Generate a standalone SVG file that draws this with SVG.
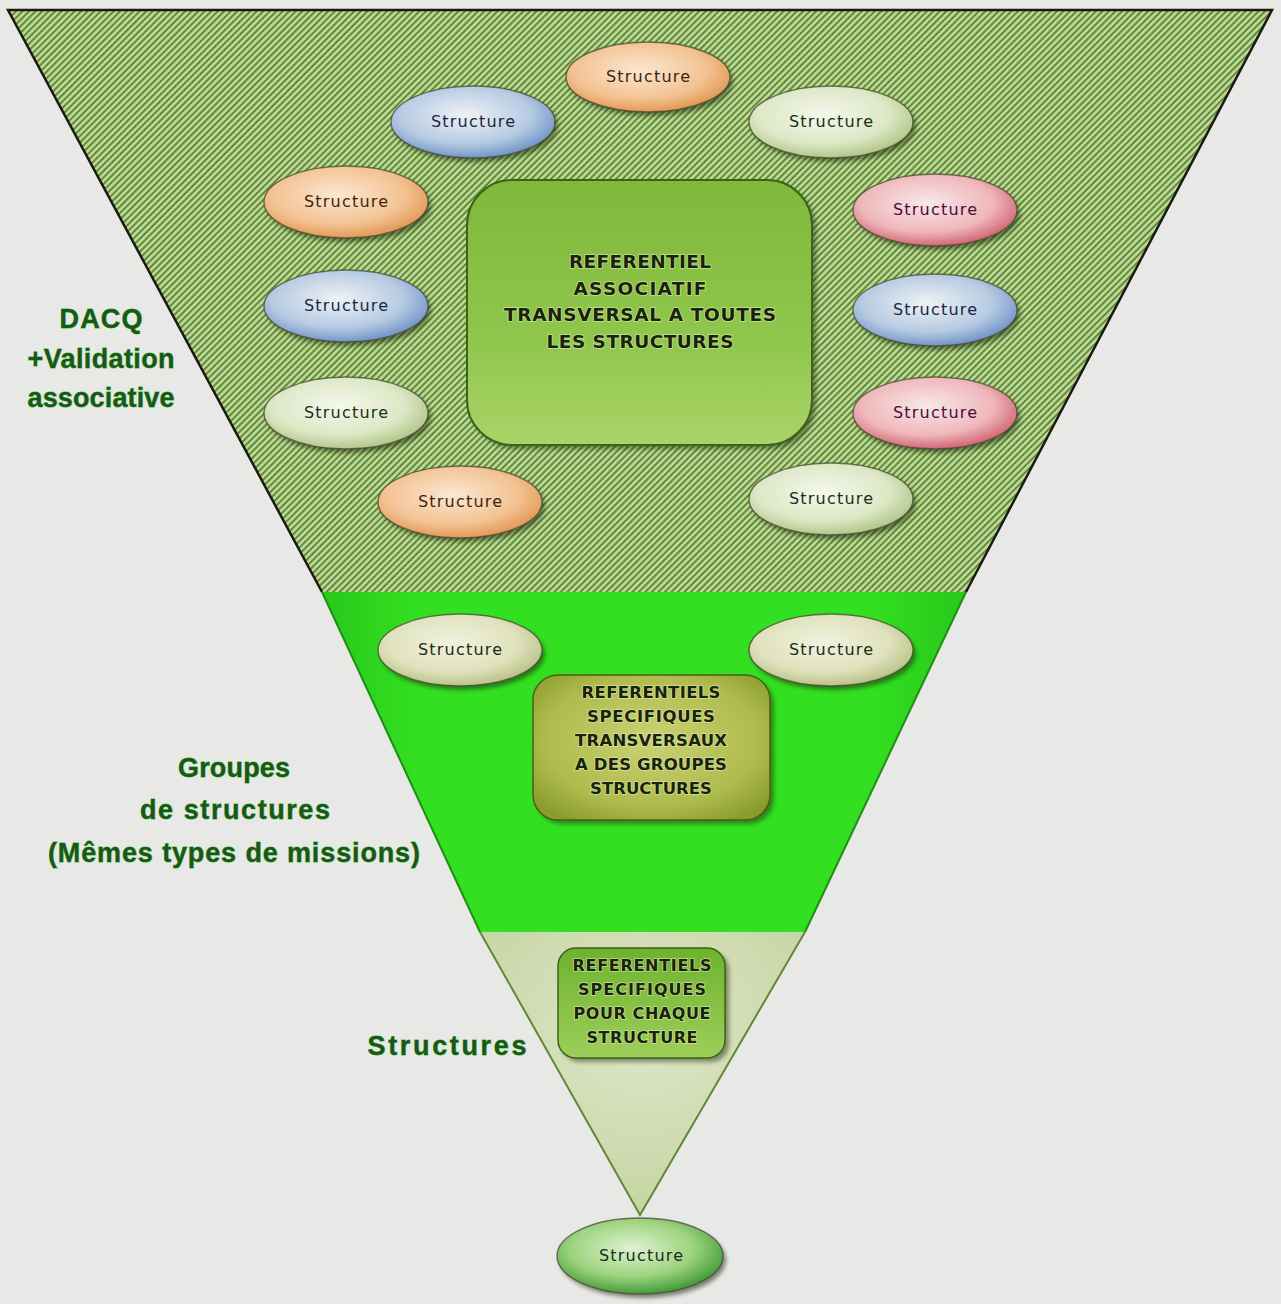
<svg xmlns="http://www.w3.org/2000/svg" width="1281" height="1304" viewBox="0 0 1281 1304">
<defs>
<pattern id="hatch" width="4.6" height="4.6" patternUnits="userSpaceOnUse" patternTransform="rotate(-45)">
<rect width="5" height="5" fill="#bcd792"/><rect width="5" height="1.8" fill="#5a8538"/>
</pattern>
<radialGradient id="gOrange" cx="45%" cy="40%" r="62%"><stop offset="0" stop-color="#fbe7d2"/><stop offset="0.65" stop-color="#f3c393"/><stop offset="1" stop-color="#e19650"/></radialGradient>
<radialGradient id="gBlue" cx="45%" cy="40%" r="62%"><stop offset="0" stop-color="#eef2f5"/><stop offset="0.65" stop-color="#b5cae2"/><stop offset="1" stop-color="#6c91c6"/></radialGradient>
<radialGradient id="gLight" cx="45%" cy="40%" r="62%"><stop offset="0" stop-color="#f5f7ec"/><stop offset="0.65" stop-color="#dde7c5"/><stop offset="1" stop-color="#adc485"/></radialGradient>
<radialGradient id="gPink" cx="45%" cy="40%" r="62%"><stop offset="0" stop-color="#f8e8e8"/><stop offset="0.65" stop-color="#efb7bb"/><stop offset="1" stop-color="#d0606f"/></radialGradient>
<radialGradient id="gBeige" cx="45%" cy="40%" r="62%"><stop offset="0" stop-color="#f1f2e0"/><stop offset="0.65" stop-color="#dfe2bc"/><stop offset="1" stop-color="#b7bf86"/></radialGradient>
<radialGradient id="gGreen" cx="45%" cy="40%" r="62%"><stop offset="0" stop-color="#e0f2d2"/><stop offset="0.6" stop-color="#9dd37e"/><stop offset="1" stop-color="#3c9833"/></radialGradient>
<linearGradient id="gMain" x1="0" y1="0" x2="0" y2="1"><stop offset="0" stop-color="#7fb83a"/><stop offset="0.6" stop-color="#8fc64c"/><stop offset="1" stop-color="#aad468"/></linearGradient>
<radialGradient id="gMid" cx="50%" cy="45%" r="65%"><stop offset="0" stop-color="#cbd274"/><stop offset="0.7" stop-color="#aebb4c"/><stop offset="1" stop-color="#8a9d2c"/></radialGradient>
<linearGradient id="gSmall" x1="0" y1="0" x2="0" y2="1"><stop offset="0" stop-color="#6eb22e"/><stop offset="1" stop-color="#9dcf5a"/></linearGradient>
<linearGradient id="gGreenBand" x1="0" y1="0" x2="1" y2="0"><stop offset="0" stop-color="#28c81a"/><stop offset="0.15" stop-color="#33e021"/><stop offset="0.85" stop-color="#33e021"/><stop offset="1" stop-color="#28c81a"/></linearGradient>
<radialGradient id="gTri" cx="50%" cy="35%" r="70%"><stop offset="0" stop-color="#dfe6c8"/><stop offset="1" stop-color="#c4d3a0"/></radialGradient>
<filter id="blur" x="-20%" y="-20%" width="140%" height="140%"><feGaussianBlur stdDeviation="2"/></filter>
</defs>
<style>
.sh{fill:#1e2a10;opacity:0.55;filter:url(#blur)}
.el{stroke:#4a4a30;stroke-width:1.4;stroke-opacity:0.75}
.st{font-family:"DejaVu Sans","Liberation Sans",sans-serif;font-size:16px;text-anchor:middle}
.ref{font-family:"DejaVu Sans","Liberation Sans",sans-serif;font-weight:bold;text-anchor:middle;fill:#18220c;stroke:#e2f2b0;stroke-width:1.6;paint-order:stroke;stroke-opacity:0.7}
.lab{font-family:"Liberation Sans",Arial,sans-serif;font-weight:bold;text-anchor:middle;fill:#1b561b;stroke:#44c23a;stroke-width:0.8;paint-order:stroke;font-size:27px}
</style>
<rect width="1281" height="1304" fill="#e8e8e6"/>

<g id="levels">
<polygon points="8,10 1272,10 966,592 322,592" fill="url(#hatch)"/>
<polyline points="322,592 8,10 1272,10 966,592" fill="none" stroke="#1a1a12" stroke-width="2.5"/>
<polygon points="322,592 966,592 805,932 480,932" fill="url(#gGreenBand)"/>
<polyline points="322,592 480,932" fill="none" stroke="#1f8f14" stroke-width="2"/>
<polyline points="966,592 805,932" fill="none" stroke="#1f8f14" stroke-width="2"/>
<polygon points="480,932 805,932 640,1215" fill="url(#gTri)"/>
<polyline points="480,932 640,1215 805,932" fill="none" stroke="#5c8a38" stroke-width="2"/>
</g>

<g id="connectors"/>

<g id="ref-main">
<rect x="471" y="184" width="345" height="265" rx="45" fill="#203010" opacity="0.5" filter="url(#blur)"/>
<rect x="467" y="180" width="345" height="265" rx="45" fill="url(#gMain)" stroke="#3a6418" stroke-width="2"/>
<text class="ref" font-size="18.5" x="640" y="268" textLength="142">REFERENTIEL</text>
<text class="ref" font-size="18.5" x="640" y="295" textLength="133">ASSOCIATIF</text>
<text class="ref" font-size="18.5" x="640" y="321" textLength="272">TRANSVERSAL A TOUTES</text>
<text class="ref" font-size="18.5" x="640" y="348" textLength="187">LES STRUCTURES</text>
</g>

<g id="ref-groupes">
<rect x="537" y="679" width="237" height="145" rx="25" fill="#203010" opacity="0.5" filter="url(#blur)"/>
<rect x="533" y="675" width="237" height="145" rx="25" fill="url(#gMid)" stroke="#4c5e18" stroke-width="1.5"/>
<text class="ref" font-size="16.5" x="651" y="698" textLength="139">REFERENTIELS</text>
<text class="ref" font-size="16.5" x="651" y="722" textLength="128">SPECIFIQUES</text>
<text class="ref" font-size="16.5" x="651" y="746" textLength="152">TRANSVERSAUX</text>
<text class="ref" font-size="16.5" x="651" y="770" textLength="152">A DES GROUPES</text>
<text class="ref" font-size="16.5" x="651" y="794" textLength="122">STRUCTURES</text>
</g>

<g id="ref-structure">
<rect x="562" y="952" width="167" height="110" rx="18" fill="#203010" opacity="0.5" filter="url(#blur)"/>
<rect x="558" y="948" width="167" height="110" rx="18" fill="url(#gSmall)" stroke="#3a6418" stroke-width="1.5"/>
<text class="ref" font-size="16" x="642" y="971" textLength="139">REFERENTIELS</text>
<text class="ref" font-size="16" x="642" y="995" textLength="128">SPECIFIQUES</text>
<text class="ref" font-size="16" x="642" y="1019" textLength="137">POUR CHAQUE</text>
<text class="ref" font-size="16" x="642" y="1043" textLength="111">STRUCTURE</text>
</g>

<g id="s1"><ellipse class="sh" cx="651" cy="81" rx="82" ry="35"/><ellipse class="el" cx="648" cy="77" rx="82" ry="35" fill="url(#gOrange)"/><text class="st" x="648" y="82" fill="#3e2410" textLength="84">Structure</text></g>
<g id="s2"><ellipse class="sh" cx="476" cy="126" rx="82" ry="36"/><ellipse class="el" cx="473" cy="122" rx="82" ry="36" fill="url(#gBlue)"/><text class="st" x="473" y="127" fill="#1a2640" textLength="84">Structure</text></g>
<g id="s3"><ellipse class="sh" cx="834" cy="126" rx="82" ry="36"/><ellipse class="el" cx="831" cy="122" rx="82" ry="36" fill="url(#gLight)"/><text class="st" x="831" y="127" fill="#16301a" textLength="84">Structure</text></g>
<g id="s4"><ellipse class="sh" cx="349" cy="206" rx="82" ry="36"/><ellipse class="el" cx="346" cy="202" rx="82" ry="36" fill="url(#gOrange)"/><text class="st" x="346" y="207" fill="#3e2410" textLength="84">Structure</text></g>
<g id="s5"><ellipse class="sh" cx="938" cy="214" rx="82" ry="36"/><ellipse class="el" cx="935" cy="210" rx="82" ry="36" fill="url(#gPink)"/><text class="st" x="935" y="215" fill="#4e0a38" textLength="84">Structure</text></g>
<g id="s6"><ellipse class="sh" cx="349" cy="310" rx="82" ry="36"/><ellipse class="el" cx="346" cy="306" rx="82" ry="36" fill="url(#gBlue)"/><text class="st" x="346" y="311" fill="#1a2640" textLength="84">Structure</text></g>
<g id="s7"><ellipse class="sh" cx="938" cy="314" rx="82" ry="36"/><ellipse class="el" cx="935" cy="310" rx="82" ry="36" fill="url(#gBlue)"/><text class="st" x="935" y="315" fill="#1a2640" textLength="84">Structure</text></g>
<g id="s8"><ellipse class="sh" cx="349" cy="417" rx="82" ry="36"/><ellipse class="el" cx="346" cy="413" rx="82" ry="36" fill="url(#gLight)"/><text class="st" x="346" y="418" fill="#16301a" textLength="84">Structure</text></g>
<g id="s9"><ellipse class="sh" cx="938" cy="417" rx="82" ry="36"/><ellipse class="el" cx="935" cy="413" rx="82" ry="36" fill="url(#gPink)"/><text class="st" x="935" y="418" fill="#4e0a38" textLength="84">Structure</text></g>
<g id="s10"><ellipse class="sh" cx="463" cy="506" rx="82" ry="36"/><ellipse class="el" cx="460" cy="502" rx="82" ry="36" fill="url(#gOrange)"/><text class="st" x="460" y="507" fill="#3e2410" textLength="84">Structure</text></g>
<g id="s11"><ellipse class="sh" cx="834" cy="503" rx="82" ry="36"/><ellipse class="el" cx="831" cy="499" rx="82" ry="36" fill="url(#gLight)"/><text class="st" x="831" y="504" fill="#16301a" textLength="84">Structure</text></g>
<g id="s12"><ellipse class="sh" cx="463" cy="654" rx="82" ry="36"/><ellipse class="el" cx="460" cy="650" rx="82" ry="36" fill="url(#gBeige)"/><text class="st" x="460" y="655" fill="#1e2a14" textLength="84">Structure</text></g>
<g id="s13"><ellipse class="sh" cx="834" cy="654" rx="82" ry="36"/><ellipse class="el" cx="831" cy="650" rx="82" ry="36" fill="url(#gBeige)"/><text class="st" x="831" y="655" fill="#1e2a14" textLength="84">Structure</text></g>
<g id="s14"><ellipse class="sh" cx="643" cy="1260" rx="83" ry="38"/><ellipse class="el" cx="640" cy="1256" rx="83" ry="38" fill="url(#gGreen)"/><text class="st" x="641" y="1261" fill="#14301a" textLength="84">Structure</text></g>

<g id="label-dacq">
<text class="lab" x="101" y="328" textLength="83">DACQ</text>
<text class="lab" x="101" y="368" textLength="147">+Validation</text>
<text class="lab" x="101" y="407" textLength="147">associative</text>
</g>
<g id="label-groupes">
<text class="lab" x="234" y="777" textLength="112">Groupes</text>
<text class="lab" x="235" y="819" textLength="190">de structures</text>
<text class="lab" x="234" y="862" textLength="372">(Mêmes types de missions)</text>
</g>
<g id="label-structures">
<text class="lab" x="447" y="1055" textLength="159">Structures</text>
</g>
</svg>
